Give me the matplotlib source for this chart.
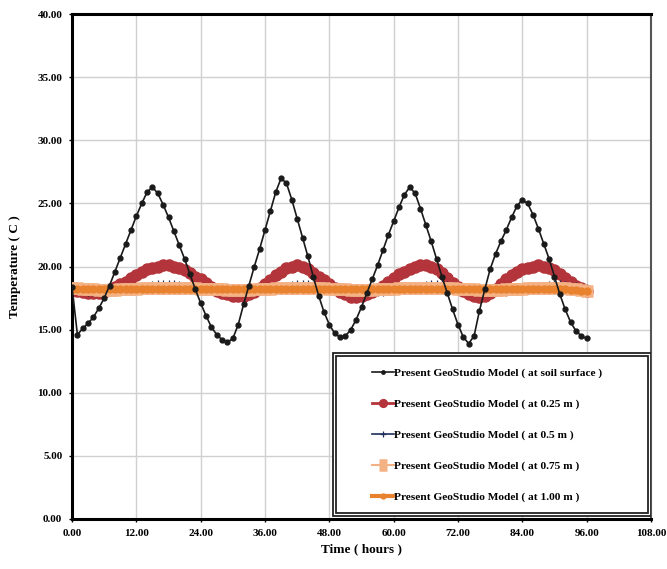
import matplotlib.pyplot as plt
from matplotlib.patches import Rectangle

# -----------------------------
# Hourly temperatures (C), 0..96 h
# -----------------------------
hours = list(range(97))

soil_surface = [
    18.4, 14.6, 15.1, 15.5, 16.0, 16.7, 17.5, 18.5, 19.6, 20.7,
    21.8, 22.9, 24.0, 25.0, 25.9, 26.3, 25.8, 24.9, 23.9, 22.8,
    21.7, 20.6, 19.4, 18.2, 17.1, 16.1, 15.2, 14.6, 14.2, 14.0,
    14.3, 15.4, 17.0, 18.5, 20.0, 21.4, 22.9, 24.4, 25.9, 27.0,
    26.6, 25.3, 23.8, 22.3, 20.8, 19.2, 17.7, 16.4, 15.4, 14.7,
    14.4, 14.5, 15.0, 15.8, 16.8, 17.9, 19.0, 20.1, 21.3, 22.5,
    23.6, 24.7, 25.7, 26.3, 25.8, 24.6, 23.3, 22.0, 20.6, 19.2,
    17.9, 16.6, 15.4, 14.4, 13.9, 14.5, 16.5, 18.2, 19.8, 21.0,
    22.0, 22.9, 23.9, 24.8, 25.3, 25.0, 24.1, 23.0, 21.8, 20.6,
    19.2, 17.8, 16.6, 15.6, 14.9, 14.5, 14.3,
]

depth_025 = [
    18.3, 18.1, 18.0, 17.9, 17.9, 17.9, 18.0, 18.2, 18.4, 18.6,
    18.8, 19.1, 19.3, 19.6, 19.8, 19.9, 20.0, 20.1, 20.1, 20.0,
    19.9, 19.7, 19.5, 19.2, 19.0, 18.7, 18.4, 18.1, 17.9, 17.8,
    17.7, 17.7, 17.7, 17.8, 18.0, 18.3, 18.6, 18.9, 19.3, 19.6,
    19.9, 20.0, 20.1, 20.0, 19.8, 19.5, 19.2, 18.9, 18.6, 18.3,
    18.0, 17.8, 17.6, 17.6, 17.7, 17.8, 18.0, 18.2, 18.5, 18.8,
    19.1, 19.4, 19.6, 19.8, 20.0, 20.1, 20.1, 20.0, 19.8, 19.5,
    19.1, 18.7, 18.4, 18.1, 17.8, 17.7, 17.6, 17.7, 17.9, 18.2,
    18.6, 19.0, 19.3, 19.6, 19.8, 19.9, 20.0, 20.1, 20.0, 19.9,
    19.7, 19.4, 19.1, 18.8, 18.5, 18.3, 18.1,
]

depth_050 = [
    18.30, 18.20, 18.10, 18.00, 18.00, 17.95, 17.95, 18.00, 18.00, 18.10,
    18.20, 18.30, 18.35, 18.45, 18.50, 18.55, 18.60, 18.60, 18.60, 18.60,
    18.55, 18.50, 18.45, 18.40, 18.30, 18.25, 18.20, 18.10, 18.05, 18.00,
    17.95, 17.95, 17.95, 18.00, 18.00, 18.10, 18.20, 18.30, 18.35, 18.45,
    18.50, 18.55, 18.60, 18.60, 18.60, 18.55, 18.50, 18.45, 18.40, 18.30,
    18.25, 18.20, 18.10, 18.05, 18.00, 17.95, 17.95, 17.95, 18.00, 18.05,
    18.10, 18.20, 18.30, 18.40, 18.45, 18.50, 18.55, 18.60, 18.60, 18.60,
    18.55, 18.50, 18.40, 18.35, 18.25, 18.20, 18.10, 18.05, 18.00, 17.95,
    17.95, 18.00, 18.05, 18.10, 18.20, 18.30, 18.40, 18.45, 18.50, 18.55,
    18.60, 18.60, 18.55, 18.50, 18.45, 18.40, 18.30,
]

depth_075 = [
    18.30, 18.28, 18.25, 18.22, 18.20, 18.18, 18.17, 18.17, 18.18, 18.20,
    18.22, 18.24, 18.26, 18.28, 18.30, 18.31, 18.32, 18.33, 18.33, 18.33,
    18.32, 18.31, 18.30, 18.28, 18.26, 18.24, 18.22, 18.20, 18.19, 18.18,
    18.17, 18.17, 18.17, 18.18, 18.19, 18.21, 18.23, 18.25, 18.27, 18.29,
    18.31, 18.32, 18.33, 18.33, 18.33, 18.32, 18.30, 18.28, 18.26, 18.24,
    18.22, 18.20, 18.18, 18.17, 18.17, 18.17, 18.18, 18.19, 18.21, 18.23,
    18.25, 18.27, 18.29, 18.31, 18.32, 18.33, 18.33, 18.33, 18.32, 18.31,
    18.29, 18.27, 18.25, 18.23, 18.21, 18.19, 18.18, 18.17, 18.17, 18.17,
    18.18, 18.20, 18.22, 18.24, 18.26, 18.28, 18.30, 18.31, 18.32, 18.32,
    18.31, 18.29, 18.27, 18.24, 18.20, 18.15, 18.10,
]

depth_100 = [
    18.25, 18.24, 18.23, 18.22, 18.21, 18.20, 18.20, 18.19, 18.19, 18.20,
    18.20, 18.21, 18.22, 18.23, 18.24, 18.25, 18.25, 18.26, 18.26, 18.26,
    18.26, 18.25, 18.25, 18.24, 18.23, 18.22, 18.21, 18.21, 18.20, 18.20,
    18.19, 18.19, 18.19, 18.20, 18.20, 18.21, 18.22, 18.23, 18.24, 18.25,
    18.25, 18.26, 18.26, 18.26, 18.26, 18.25, 18.24, 18.23, 18.22, 18.21,
    18.21, 18.20, 18.20, 18.19, 18.19, 18.19, 18.20, 18.20, 18.21, 18.22,
    18.23, 18.24, 18.25, 18.25, 18.26, 18.26, 18.26, 18.26, 18.25, 18.25,
    18.24, 18.23, 18.22, 18.21, 18.20, 18.20, 18.19, 18.19, 18.19, 18.20,
    18.20, 18.21, 18.22, 18.23, 18.24, 18.25, 18.25, 18.26, 18.26, 18.25,
    18.24, 18.22, 18.20, 18.17, 18.14, 18.10, 18.05,
]

labels = [
    "Present GeoStudio Model ( at soil surface )",
    "Present GeoStudio Model ( at 0.25 m )",
    "Present GeoStudio Model ( at 0.5 m )",
    "Present GeoStudio Model ( at 0.75 m )",
    "Present GeoStudio Model ( at 1.00 m )",
]

x_ticks = [0, 12, 24, 36, 48, 60, 72, 84, 96, 108]
y_ticks = [0, 5, 10, 15, 20, 25, 30, 35, 40]

# -----------------------------
# Figure
# -----------------------------
plt.rcParams["font.family"] = ["Liberation Serif", "DejaVu Serif"]
plt.rcParams["font.weight"] = "bold"

fig = plt.figure(figsize=(6.67, 5.69), dpi=100)
ax = fig.add_axes([0.108, 0.088, 0.868, 0.887])

ax.plot(hours, depth_025, color="#B3343A", marker="o", markersize=8,
        linewidth=2, zorder=2, label=labels[1])
ax.plot(hours, depth_050, color="#1F2F5C", marker="+", markersize=6,
        markeredgewidth=0.9, linewidth=1.2, zorder=3, label=labels[2])
ax.plot(hours, depth_075, color="#F4B183", marker="_", markersize=8,
        markeredgewidth=9, linewidth=1.5, zorder=4, label=labels[3])
ax.plot(hours, depth_100, color="#E8822E", marker="o", markersize=5,
        linewidth=3, zorder=5, label=labels[4])
ax.plot(hours, soil_surface, color="#1A1A1A", marker="o", markersize=3.5,
        linewidth=1.2, zorder=6, label=labels[0])

ax.set_xlim(0, 108)
ax.set_ylim(0, 40)
ax.set_xticks(x_ticks)
ax.set_yticks(y_ticks)
ax.set_xticklabels([f"{v:.2f}" for v in x_ticks])
ax.set_yticklabels([f"{v:.2f}" for v in y_ticks])
ax.tick_params(labelsize=8, length=2, width=1, pad=5)

ax.grid(True, color="#D0D0D0", linewidth=1)
ax.set_axisbelow(True)
for side in ["left", "bottom", "top"]:
    ax.spines[side].set_linewidth(2.2)
ax.spines["right"].set_linewidth(1.5)
ax.spines["right"].set_color("#555555")

ax.set_xlabel("Time ( hours )", fontsize=9.5, fontweight="bold", labelpad=4)
ax.set_ylabel("Temperature ( C )", fontsize=9.5, fontweight="bold", labelpad=12)

# legend with a double border
handles, names = ax.get_legend_handles_labels()
order = [4, 0, 1, 2, 3]
leg = ax.legend([handles[i] for i in order], [names[i] for i in order],
                loc="upper left", bbox_to_anchor=(0.518, 0.300),
                frameon=False, fontsize=8.2, handlelength=1.9,
                handletextpad=0.05, labelspacing=1.83, borderpad=0,
                borderaxespad=0, markerscale=0.7)
ax.add_patch(Rectangle((0.451, 0.006), 0.549, 0.323, transform=ax.transAxes,
                       fill=True, facecolor="white", edgecolor="#222222",
                       linewidth=1.3, zorder=7))
ax.add_patch(Rectangle((0.456, 0.012), 0.539, 0.311, transform=ax.transAxes,
                       fill=False, edgecolor="#222222", linewidth=1.3, zorder=7))
leg.set_zorder(8)

fig.savefig("out.png", dpi=100)
